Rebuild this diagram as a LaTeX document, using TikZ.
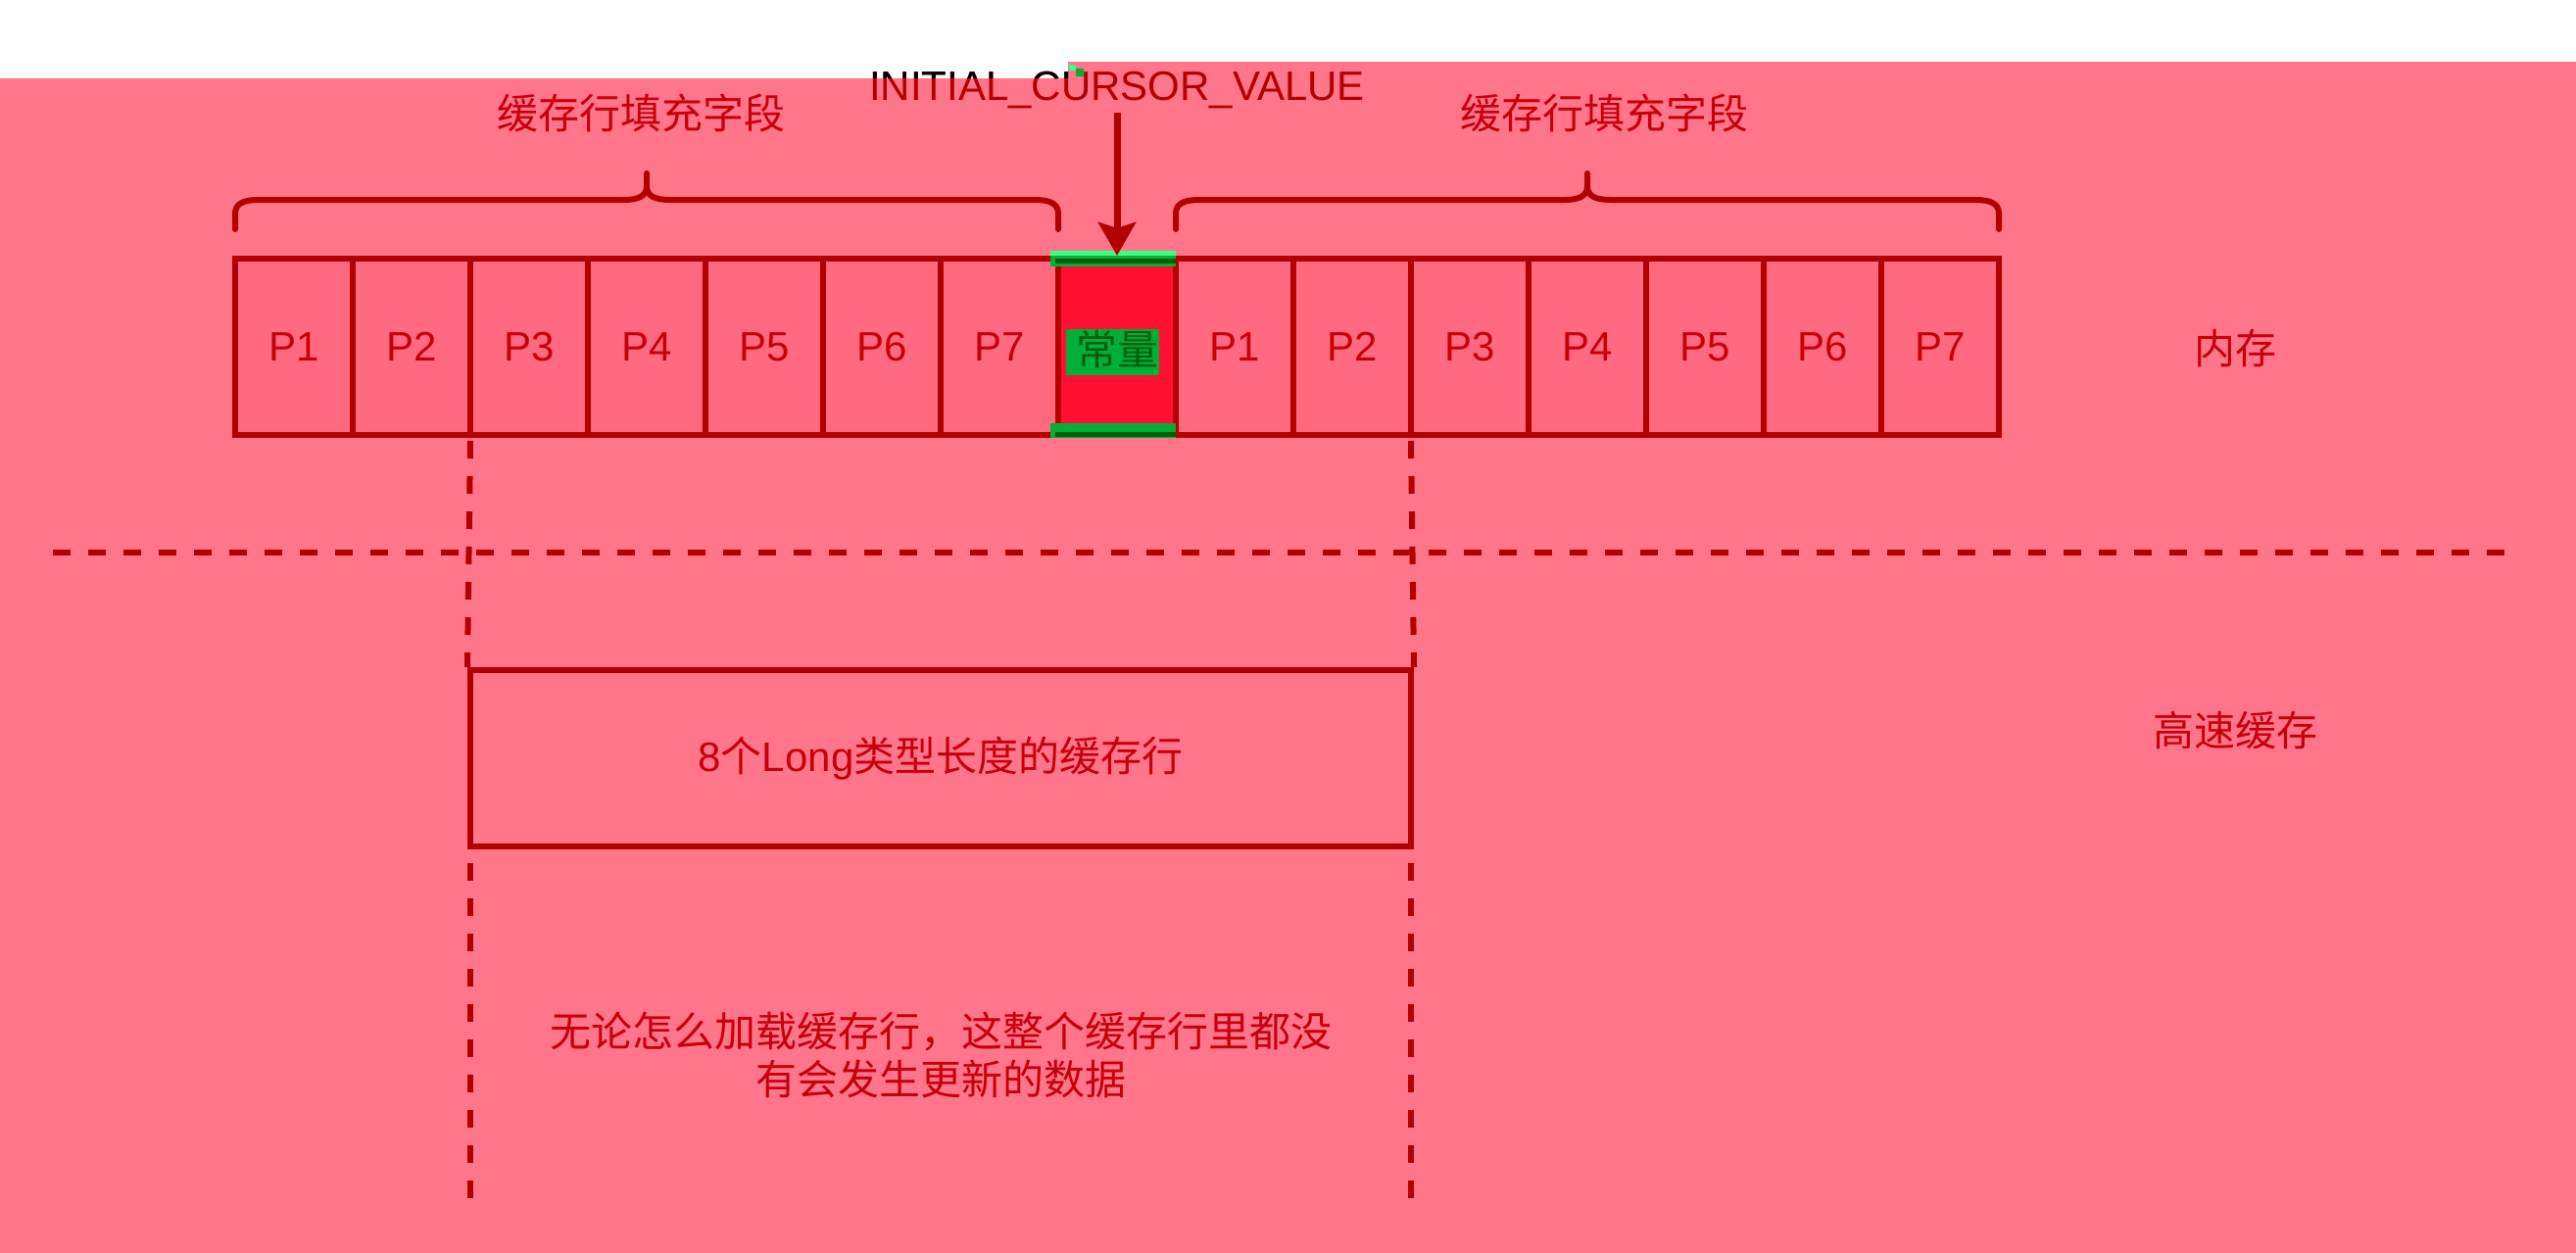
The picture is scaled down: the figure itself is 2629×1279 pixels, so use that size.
\documentclass[tikz,border=0pt]{standalone}
\usepackage{fontspec}
\setmainfont{Liberation Sans}
\newfontfamily\cjk{Noto Sans CJK SC}
\usetikzlibrary{arrows.meta}
\definecolor{bgpink}{RGB}{255,117,138}
\definecolor{cellpink}{RGB}{255,106,128}
\definecolor{linered}{RGB}{180,0,0}
\definecolor{textred}{RGB}{200,0,10}
\definecolor{constred}{RGB}{255,16,48}
\definecolor{selgreen}{RGB}{0,175,55}
\definecolor{selgreenlight}{RGB}{60,255,130}
\definecolor{darkgreen}{RGB}{0,95,10}
\begin{document}
\begin{tikzpicture}[x=1pt,y=-1pt,
  cell/.style={draw=linered, line width=6pt, fill=cellpink, minimum width=120pt,
    minimum height=180pt, inner sep=0pt, text=textred, font=\fontsize{42}{50}\selectfont},
  constcell/.style={cell, fill=constred},
  cachebox/.style={draw=linered, line width=6pt, minimum width=960pt, minimum height=180pt,
    inner sep=0pt, text=textred, font=\fontsize{42}{50}\selectfont},
  brace/.style={draw=linered, line width=6pt, line cap=round, line join=round},
  dashline/.style={draw=linered, line width=6pt, dash pattern=on 18pt off 18pt},
  cjklabel/.style={text=textred, font=\cjk\fontsize{42}{49}\selectfont, inner sep=0pt},
  arrowline/.style={draw=linered, line width=7pt, -{Stealth[length=34pt,width=38pt,inset=6pt]}},
  titletext/.style={font=\fontsize{42}{50}\selectfont, inner sep=0pt, anchor=base}
]
\useasboundingbox (0,0) rectangle (2629,1279);
% background
\fill[white] (0,0) rectangle (2629,1279);
\fill[bgpink] (0,80) rectangle (1090,1279);
\fill[bgpink] (1090,63) rectangle (2629,1279);
\fill[selgreenlight] (1091,66) rectangle (1098,72);
\fill[selgreen] (1098,70) rectangle (1106,78);

% memory cells
\foreach \i in {1,...,7} {
  \node[cell] (a\i) at ({300+120*(\i-1)},354) {P\i};
  \node[cell] (b\i) at ({1260+120*(\i-1)},354) {P\i};
}
\node[constcell] (const) at (1140,354) {};
% selection artefacts on the constant cell
\fill[selgreen] (1072,256) rectangle (1200,272);
\fill[selgreenlight] (1072,256) rectangle (1200,261);
\draw[darkgreen, line width=5pt] (1077,266) -- (1200,266);
\fill[selgreen] (1072,432) rectangle (1200,447);
\draw[darkgreen, line width=5pt] (1077,443) -- (1200,443);
\fill[selgreen] (1088,336) rectangle (1183,383);
\node[text=darkgreen, font=\cjk\fontsize{42}{50}\selectfont, inner sep=0pt] (constlabel) at (1140,357) {常量};

% braces
\draw[brace] (240,234) -- (240,218) .. controls (240,208) and (248,204) .. (264,204)
  -- (636,204) .. controls (652,204) and (660,200) .. (660,190) -- (660,177) -- (660,190)
  .. controls (660,200) and (668,204) .. (684,204) -- (1056,204)
  .. controls (1072,204) and (1080,208) .. (1080,218) -- (1080,234);
\draw[brace] (1200,234) -- (1200,218) .. controls (1200,208) and (1208,204) .. (1224,204)
  -- (1596,204) .. controls (1612,204) and (1620,200) .. (1620,190) -- (1620,177) -- (1620,190)
  .. controls (1620,200) and (1628,204) .. (1644,204) -- (2016,204)
  .. controls (2032,204) and (2040,208) .. (2040,218) -- (2040,234);
\node[cjklabel] (padl) at (654,115) {缓存行填充字段};
\node[cjklabel] (padr) at (1637,115) {缓存行填充字段};

% INITIAL_CURSOR_VALUE label and arrow
\node[titletext, text=linered] (icv) at (1140,103) {INITIAL\_CURSOR\_VALUE};
\begin{scope}
  \clip (0,0) rectangle (1090,80);
  \node[titletext, text=black] (icvtop) at (1140,103) {INITIAL\_CURSOR\_VALUE};
\end{scope}
\coordinate (arrtop) at (1140,115);
\draw[arrowline] (arrtop) -- (const.north);

% side labels
\node[cjklabel] (mem) at (2281,356) {内存};
\node[cjklabel] (cache) at (2281,746) {高速缓存};

% separator
\coordinate (sepl) at (54,564);
\coordinate (sepr) at (2560,564);
\draw[dashline] (sepl) -- (sepr);

% cache line box
\node[cachebox] (cl) at (960,774) {8{\cjk 个}Long{\cjk 类型长度的缓存行}};
\coordinate (la) at (480,450);
\coordinate (ra) at (1440,450);
\draw[dashline] (la) -- (cl.north west);
\draw[dashline] (ra) -- (cl.north east);
\coordinate (lb0) at (480,881);
\coordinate (rb0) at (1440,881);
\coordinate (lb) at (480,1225);
\coordinate (rb) at (1440,1225);
\draw[dashline] (lb0) -- (lb);
\draw[dashline] (rb0) -- (rb);

\node[cjklabel, align=center] (note) at (960,1077) {无论怎么加载缓存行，这整个缓存行里都没\\有会发生更新的数据};
\end{tikzpicture}
\end{document}
